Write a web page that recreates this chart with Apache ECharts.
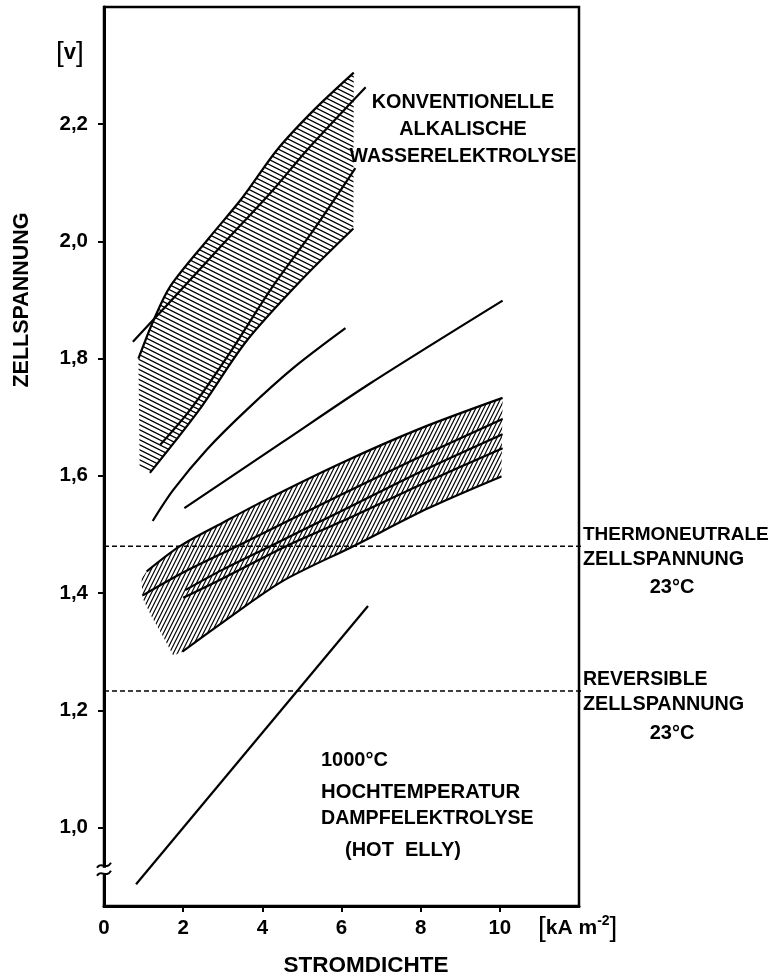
<!DOCTYPE html>
<html>
<head>
<meta charset="utf-8">
<script src="https://cdn.jsdelivr.net/npm/echarts@6/dist/echarts.min.js"></script>
<style>
html, body { margin: 0; padding: 0; background: #fff; }
#chart { width: 769px; height: 979px; }
</style>
</head>
<body>
<div id="chart"></div>
<script>
// Stromdichte [kA m-2] -> Zellspannung [V]
const xTicks = [0, 2, 4, 6, 8, 10];
const yTicks = [1.0, 1.2, 1.4, 1.6, 1.8, 2.0, 2.2];

// konventionelle alkalische Wasserelektrolyse (oberes Band)
const convTop = [[0.87, 1.80], [1.25, 1.865], [1.67, 1.923], [2.68, 2.008], [3.5, 2.075], [4.37, 2.156], [5.3, 2.224], [6.31, 2.288]];
const convCross = [[0.73, 1.829], [1.67, 1.897], [3.0, 1.995], [4.3, 2.09], [5.13, 2.156], [6.61, 2.263]];
const convInner = [[1.42, 1.653], [2.18, 1.713], [3.2, 1.812], [4.2, 1.917], [5.3, 2.02], [6.35, 2.125]];
const convBottom = [[1.16, 1.605], [2.4, 1.712], [3.6, 1.83], [5.0, 1.935], [6.3, 2.022]];
const convLeft = [[0.9, 1.616]];

// einzelne Kurven dazwischen
const midA = [[1.23, 1.523], [1.75, 1.576], [2.6, 1.645], [3.61, 1.713], [4.8, 1.785], [6.1, 1.852]];
const midB = [[2.03, 1.545], [4.5, 1.657], [6.73, 1.758], [10.07, 1.899]];

// unteres Band
const lowTop = [[1.08, 1.437], [1.92, 1.48], [3.0, 1.52], [4.0, 1.556], [6.0, 1.622], [8.0, 1.681], [10.07, 1.733]];
const lowB = [[0.98, 1.396], [2.0, 1.435], [3.36, 1.48], [6.0, 1.568], [8.0, 1.633], [10.07, 1.697]];
const lowC = [[2.05, 1.405], [3.0, 1.44], [4.2, 1.48], [6.0, 1.54], [8.0, 1.607], [10.07, 1.671]];
const lowD = [[2.0, 1.392], [3.0, 1.425], [4.6, 1.48], [6.0, 1.522], [8.0, 1.585], [10.07, 1.647]];
const lowBottom = [[1.98, 1.30], [3.0, 1.35], [4.5, 1.42], [6.3, 1.48], [8.2, 1.545], [10.04, 1.599]];
const lowLeft = [[1.75, 1.293], [1.5, 1.325], [1.2, 1.36], [0.97, 1.392], [0.95, 1.425]];

// Hochtemperatur-Dampfelektrolyse (HOT ELLY)
const hotElly = [[0.81, 0.903], [6.67, 1.378]];

const thermoneutral = 1.48;
const reversible = 1.233;
const axisBreak = 0.926;

const FONT = '"Liberation Sans", Arial, Helvetica, sans-serif';

function hatch(w, h, rising, lw) {
  const c = document.createElement('canvas');
  c.width = w;
  c.height = h;
  const ctx = c.getContext('2d');
  ctx.strokeStyle = '#000';
  ctx.lineWidth = lw;
  ctx.beginPath();
  for (const dx of [-w, 0, w]) {
    for (const dy of [-h, 0, h]) {
      if (rising) { ctx.moveTo(dx, dy + h); ctx.lineTo(dx + w, dy); }
      else { ctx.moveTo(dx, dy); ctx.lineTo(dx + w, dy + h); }
    }
  }
  ctx.stroke();
  return c;
}

const convPoly = convTop.concat(convBottom.slice().reverse(), convLeft);
const lowPoly = lowTop.concat(lowBottom.slice().reverse(), lowLeft);

function band(poly, pattern) {
  return {
    type: 'custom',
    silent: true,
    z: 1,
    data: poly,
    renderItem(params, api) {
      if (params.dataIndex !== 0) return null;
      return {
        type: 'polygon',
        shape: { points: poly.map(p => api.coord(p)) },
        style: { fill: { image: pattern, repeat: 'repeat' }, stroke: null }
      };
    }
  };
}

function curve(data) {
  return {
    type: 'line', data, symbol: 'none', silent: true, z: 3, smooth: 0.3,
    lineStyle: { color: '#000', width: 2.2 }
  };
}

function dashed(v) {
  return {
    type: 'line', data: [[0, v], [12.18, v]], symbol: 'none', silent: true, clip: false, z: 4,
    lineStyle: { color: '#000', width: 1.5, type: [5, 3] }
  };
}

function txt(x, y, text, size, align) {
  return {
    type: 'text', x, y, silent: true,
    style: { text, fill: '#000', font: 'bold ' + size + 'px ' + FONT, align: align || 'left', verticalAlign: 'middle' }
  };
}

const chart = echarts.init(document.getElementById('chart'));
chart.setOption({
  animation: false,
  backgroundColor: '#fff',
  grid: { left: 104, right: 190, top: 7, bottom: 73, show: true, borderColor: '#000', borderWidth: 2.5 },
  xAxis: {
    type: 'value', min: 0, max: 12,
    axisLine: { lineStyle: { color: '#000', width: 3 } },
    axisTick: { customValues: [2, 4, 6, 8, 10], length: 6, lineStyle: { color: '#000', width: 2 } },
    axisLabel: { customValues: xTicks, margin: 12, color: '#000', fontFamily: FONT, fontWeight: 'bold', fontSize: 20.5 },
    splitLine: { show: false }
  },
  yAxis: {
    type: 'value', min: 0.866, max: 2.4,
    axisLine: { lineStyle: { color: '#000', width: 3 } },
    axisTick: { customValues: yTicks, length: 6, lineStyle: { color: '#000', width: 2 } },
    axisLabel: {
      customValues: yTicks, margin: 16, color: '#000', fontFamily: FONT, fontWeight: 'bold', fontSize: 20.5,
      formatter: v => v.toFixed(1).replace('.', ',')
    },
    splitLine: { show: false }
  },
  series: [
    band(convPoly, hatch(10, 5, false, 1.3)),
    band(lowPoly, hatch(4, 8, true, 1.2)),
    curve(convTop), curve(convCross), curve(convInner), curve(convBottom),
    curve(midA), curve(midB),
    curve(lowTop), curve(lowB), curve(lowC), curve(lowD), curve(lowBottom),
    curve(hotElly),
    dashed(thermoneutral), dashed(reversible)
  ],
  graphic: [
    {
      type: 'text', x: 56, y: 53, silent: true,
      style: {
        text: '{b|[}{v|v}{b|]}', fill: '#000', verticalAlign: 'middle',
        rich: { b: { font: '28px ' + FONT }, v: { font: 'bold 22px ' + FONT } }
      }
    },
    {
      type: 'text', x: 22, y: 300, rotation: Math.PI / 2, silent: true,
      style: { text: 'ZELLSPANNUNG', fill: '#000', font: 'bold 21.5px ' + FONT, align: 'center', verticalAlign: 'middle' }
    },
    txt(366, 966, 'STROMDICHTE', 22.5, 'center'),
    {
      type: 'text', x: 538, y: 928, silent: true,
      style: {
        text: '{b|[}{t|kA m}{s|-2}{b|]}', fill: '#000', verticalAlign: 'middle',
        rich: {
          b: { font: '28px ' + FONT },
          t: { font: 'bold 21px ' + FONT },
          s: { font: 'bold 14px ' + FONT, verticalAlign: 'top', padding: [0, 0, 10, 0] }
        }
      }
    },
    txt(463, 103, 'KONVENTIONELLE', 19.8, 'center'),
    txt(463, 130, 'ALKALISCHE', 19.8, 'center'),
    txt(463, 157, 'WASSERELEKTROLYSE', 19.5, 'center'),
    txt(321, 760, '1000°C', 20),
    txt(321, 792, 'HOCHTEMPERATUR', 20.3),
    txt(321, 819, 'DAMPFELEKTROLYSE', 19.6),
    txt(345, 850, '(HOT  ELLY)', 20),
    txt(583, 535, 'THERMONEUTRALE', 19),
    txt(583, 560, 'ZELLSPANNUNG', 19.8),
    txt(672, 587, '23°C', 20, 'center'),
    txt(583, 680, 'REVERSIBLE', 19.5),
    txt(583, 705, 'ZELLSPANNUNG', 19.8),
    txt(672, 733, '23°C', 20, 'center')
  ]
});

// Achsenbruch auf der y-Achse
const bp = chart.convertToPixel({ gridIndex: 0 }, [0, axisBreak]);
const cx = bp[0], cy = bp[1];
function wave(dy) {
  return {
    type: 'bezierCurve', silent: true, z: 100,
    shape: { x1: cx - 7, y1: cy + dy + 1, cpx1: cx - 3, cpy1: cy + dy - 6, cpx2: cx + 2, cpy2: cy + dy + 4, x2: cx + 7, y2: cy + dy - 4 },
    style: { stroke: '#000', lineWidth: 2, fill: null }
  };
}
chart.setOption({
  graphic: [
    { id: 'brk', type: 'rect', z: 99, silent: true, shape: { x: cx - 3, y: cy - 3, width: 6, height: 6 }, style: { fill: '#fff' } },
    Object.assign({ id: 'w1' }, wave(-4)),
    Object.assign({ id: 'w2' }, wave(4))
  ]
});
</script>
</body>
</html>
